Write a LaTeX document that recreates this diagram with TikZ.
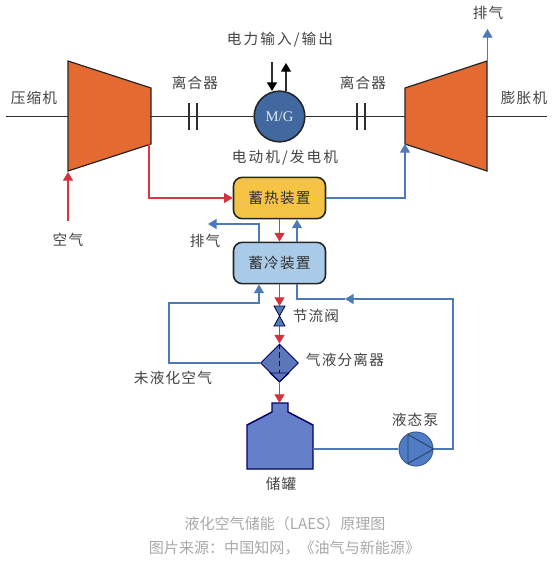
\documentclass[tikz,border=0pt]{standalone}
\usepackage{fontspec}
\setmainfont{Noto Sans CJK SC}
\newfontfamily\latinserif{Liberation Serif}
\newfontfamily\spaced[LetterSpace=8]{Noto Sans CJK SC}
\newfontfamily\spacedwide[LetterSpace=14]{Noto Sans CJK SC}
\usetikzlibrary{arrows.meta,shapes.geometric}
\definecolor{cOrange}{HTML}{E46A32}
\definecolor{cYellow}{HTML}{F5C445}
\definecolor{cPale}{HTML}{A9CBE8}
\definecolor{cMotor}{HTML}{41699F}
\definecolor{cTank}{HTML}{6580C8}
\definecolor{cPump}{HTML}{4F7CC4}
\definecolor{cRed}{HTML}{DC3540}
\definecolor{cBlue}{HTML}{4C7AB8}
\definecolor{cDark}{HTML}{2E2E2E}
\definecolor{cText}{HTML}{444444}
\definecolor{cCap}{HTML}{A8A8A8}
\tikzset{
  x=0.75pt,y=-0.75pt,
  lbl/.style={text=cText,font=\spaced\fontsize{11}{13}\selectfont,inner sep=0pt},
  lblwide/.style={text=cText,font=\spacedwide\fontsize{11}{13}\selectfont,inner sep=0pt},
  captext/.style={text=cCap,font=\fontsize{11.3}{13}\selectfont,inner sep=0pt},
  shaft/.style={draw=cDark,line width=1.3pt},
  body/.style={draw=cDark!80!black,line width=0.9pt,fill=cOrange},
  store/.style={draw=black!85,line width=1.2pt,rounded corners=6.5pt,minimum width=69pt,minimum height=31pt,inner sep=0pt,text=cText!70!black,font=\spaced\fontsize{11}{13}\selectfont},
  redline/.style={draw=cRed,line width=0.9pt},
  blueline/.style={draw=cBlue,line width=0.9pt},
  redarrow/.style={redline,-{Triangle[width=7.5pt,length=6.5pt,color=cRed!95!black]}},
  bluearrow/.style={blueline,-{Triangle[width=7.5pt,length=6.5pt,color=cBlue]}},
  blackarrow/.style={draw=cDark,line width=0.9pt,-{Triangle[width=7.5pt,length=6.5pt,color=black]}},
  clutchbar/.style={draw=cDark,line width=1pt},
}
\begin{document}
\begin{tikzpicture}
\useasboundingbox (0,0) rectangle (554,566);
% named points
\coordinate (shaftL) at (6,116.5);
\coordinate (shaftR) at (547,116.5);
\coordinate (cA) at (68,116.5);
\coordinate (cB) at (151,116.5);
\coordinate (eA) at (405,116.5);
\coordinate (eB) at (487,116.5);
\coordinate (airS) at (68,221);
\coordinate (airT) at (68,172);
\coordinate (cOut) at (149,144);
\coordinate (eIn) at (405,144);
\coordinate (eTop) at (487.5,61);
\coordinate (eTip) at (487.5,29);
\coordinate (exT) at (208,224);
\coordinate (ioA) at (272,62);
\coordinate (ioB) at (286,63);
% compressor and expander
\draw[shaft] (shaftL) -- (cA);
\draw[shaft] (eB) -- (shaftR);
\draw[body] (68,61) -- (151,88) -- (151,144) -- (68,171) -- cycle;
\draw[body] (405,88) -- (487,61) -- (487,171) -- (405,144) -- cycle;
% motor
\node[circle,draw=black!85,line width=1.2pt,fill=cMotor,minimum size=38pt,inner sep=0pt,text=white!85!cMotor,font=\fontsize{11}{13}\selectfont\latinserif] (mg) at (279.5,116.5) {M/G};
\draw[shaft] (cB) -- (mg);
\draw[shaft] (mg) -- (eA);
% clutches
\draw[clutchbar] (189,103) -- (189,130);
\draw[clutchbar] (197,103) -- (197,130);
\draw[clutchbar] (357,103) -- (357,130);
\draw[clutchbar] (365,103) -- (365,130);
% stores
\node[store,fill=cYellow] (heat) at (279.5,198) {蓄热装置};
\node[store,fill=cPale] (cold) at (279.5,263) {蓄冷装置};
% valve
\coordinate (v) at (279.5,316);
\draw[draw=black!70!blue,line width=0.6pt,fill=cBlue!85!gray] (274,306) -- (285,306) -- (v) -- cycle;
\draw[draw=black!70!blue,line width=0.6pt,fill=cBlue!85!gray] (274,326) -- (285,326) -- (v) -- cycle;
\coordinate (vT) at (279.5,306);
\coordinate (vB) at (279.5,326);
% separator
\node[diamond,draw=black!60!blue,line width=0.7pt,fill=cTank!92!black,minimum width=28.5pt,minimum height=28.5pt,inner sep=0pt,aspect=1] (sep) at (279.5,363) {};
\draw[draw=black!60!blue,line width=0.7pt] (270,373) -- (289,373) -- (279.5,382) -- cycle;
\draw[draw=black!60!blue,line width=0.7pt,dash pattern=on 4pt off 2.5pt] (sep.north) -- (279.5,373);
% tank
\draw[draw=black!60!blue,line width=1.1pt,fill=cTank] (272,403) -- (288,403) -- (288,412) -- (313,425) -- (313,469) -- (247,469) -- (247,425) -- (272,412) -- cycle;
\coordinate (tIn) at (279.5,403);
\coordinate (tOut) at (313,449);
% pump
\node[circle,draw=cBlue!80!black,line width=0.8pt,fill=cPump,minimum size=25.5pt,inner sep=0pt] (pump) at (416,449) {};
\draw[draw=cBlue!55!black,line width=0.7pt] (408,434.5) -- (pump.east) -- (408,463.5) -- cycle;
% top arrows
\draw[blackarrow] (ioA) -- (272,91);
\draw[blackarrow] (286,91) -- (ioB);
\draw[bluearrow] (eTop) -- (eTip);
% air side
\draw[redarrow] (airS) -- (airT);
\draw[redarrow] (cOut) -- (149,198) -- (heat.west);
\draw[bluearrow] (heat.east) -- (405,198) -- (eIn);
\draw[redarrow] (heat.south) -- (cold.north);
\draw[bluearrow] (297,242) -- (297,219.5);
\draw[bluearrow] (259,242) -- (259,224) -- (exT);
\draw[redarrow] (cold.south) -- (vT);
\draw[redarrow] (vB) -- (sep.north);
\draw[redarrow] (sep.south) -- (tIn);
\draw[blueline] (tOut) -- (pump.west);
\coordinate (retMid) at (345,299);
\draw[bluearrow] (pump.east) -- (453,449) -- (453,299) -- (retMid);
\draw[blueline] (retMid) -- (297,299) -- (297,284);
\draw[bluearrow] (sep.west) -- (169,363) -- (169,303) -- (259,303) -- (259,284.5);
% labels
\node[lbl] (tCompressor) at (34,98) {压缩机};
\node[lbl] (tClutchL) at (195,83) {离合器};
\node[lbl] (tClutchR) at (363,83) {离合器};
\node[lblwide] (tPower) at (280,40) {电力输入/输出};
\node[lbl] (tExTop) at (488,13) {排气};
\node[lbl] (tExpander) at (524,98) {膨胀机};
\node[lblwide] (tMotor) at (285,158) {电动机/发电机};
\node[lbl] (tAir) at (68,240) {空气};
\node[lbl] (tExMid) at (205,241) {排气};
\node[lbl] (tThrottle) at (316,316) {节流阀};
\node[lbl] (tSep) at (345,360) {气液分离器};
\node[lbl] (tUnliq) at (173,378) {未液化空气};
\node[lbl] (tPump) at (415,420) {液态泵};
\node[lbl] (tTank) at (281,484) {储罐};
\node[captext] (tCap1) at (285,524) {液化空气储能（LAES）原理图};
\node[captext] (tCap2) at (284.5,548) {图片来源：中国知网，《油气与新能源》};
\end{tikzpicture}
\end{document}
